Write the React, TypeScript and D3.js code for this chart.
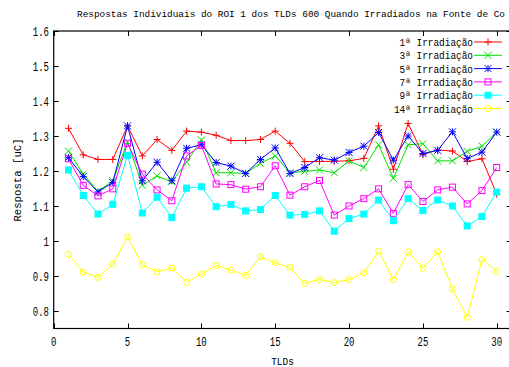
import React from "react";
import * as d3 from "d3";

const W = 509;
const H = 367;

const titleText = "Respostas Individuais do ROI 1 dos TLDs 600 Quando Irradiados na Fonte de Co";
const xLabel = "TLDs";
const yLabel = "Resposta [uC]";

const tlds = [1, 2, 3, 4, 5, 6, 7, 8, 9, 10, 11, 12, 13, 14, 15, 16, 17, 18, 19, 20, 21, 22, 23, 24, 25, 26, 27, 28, 29, 30];

const irr1 = [1.322, 1.246, 1.233, 1.233, 1.329, 1.243, 1.29, 1.259, 1.314, 1.311, 1.302, 1.287, 1.287, 1.29, 1.314, 1.279, 1.227, 1.227, 1.228, 1.229, 1.236, 1.329, 1.205, 1.336, 1.247, 1.26, 1.257, 1.227, 1.235, 1.134];
const irr3 = [1.257, 1.191, 1.142, 1.172, 1.284, 1.159, 1.186, 1.169, 1.225, 1.289, 1.195, 1.195, 1.193, 1.222, 1.243, 1.195, 1.199, 1.203, 1.195, 1.229, 1.21, 1.275, 1.179, 1.275, 1.278, 1.229, 1.229, 1.256, 1.271, 1.311];
const irr5 = [1.238, 1.184, 1.14, 1.167, 1.329, 1.172, 1.225, 1.172, 1.265, 1.275, 1.224, 1.214, 1.193, 1.233, 1.266, 1.193, 1.21, 1.238, 1.231, 1.253, 1.271, 1.31, 1.231, 1.3, 1.25, 1.259, 1.312, 1.236, 1.254, 1.311];
const irr7 = [1.235, 1.159, 1.129, 1.149, 1.279, 1.191, 1.146, 1.115, 1.243, 1.273, 1.163, 1.161, 1.148, 1.155, 1.215, 1.131, 1.155, 1.173, 1.074, 1.1, 1.121, 1.149, 1.079, 1.161, 1.113, 1.146, 1.154, 1.106, 1.144, 1.21];
const irr9 = [1.203, 1.13, 1.077, 1.105, 1.245, 1.08, 1.125, 1.067, 1.151, 1.155, 1.098, 1.104, 1.086, 1.09, 1.13, 1.074, 1.076, 1.086, 1.028, 1.064, 1.077, 1.117, 1.058, 1.121, 1.087, 1.117, 1.1, 1.043, 1.07, 1.14];
const irr14 = [0.962, 0.911, 0.896, 0.934, 1.011, 0.932, 0.912, 0.923, 0.882, 0.906, 0.93, 0.917, 0.902, 0.955, 0.938, 0.924, 0.879, 0.89, 0.881, 0.89, 0.909, 0.971, 0.89, 0.969, 0.922, 0.969, 0.863, 0.782, 0.947, 0.913];

const seriesNames = ["1ª Irradiação", "3ª Irradiação", "5ª Irradiação", "7ª Irradiação", "9ª Irradiação", "14ª Irradiação"];
const seriesValues = [irr1, irr3, irr5, irr7, irr9, irr14];
const seriesColors = ["#ff0000", "#00e000", "#0000ff", "#ff00ff", "#00ffff", "#ffff00"];
const seriesMarkers = ["plus", "cross", "star", "square", "filledSquare", "circle"];

const xTicks = [0, 5, 10, 15, 20, 25, 30];
const yTicks = [0.8, 0.9, 1.0, 1.1, 1.2, 1.3, 1.4, 1.5, 1.6];
const yTickLabels = ["0.8", "0.9", "1", "1.1", "1.2", "1.3", "1.4", "1.5", "1.6"];

const FONT = "'Liberation Mono', 'DejaVu Sans Mono', monospace";
const CW = 5.65;

function Marker({ type, x, y, color }: { type: string; x: number; y: number; color: string }) {
  const s = 3.5;
  const sw = 1;
  switch (type) {
    case "plus":
      return (
        <g stroke={color} strokeWidth={sw}>
          <line x1={x - s} x2={x + s} y1={y} y2={y} />
          <line x1={x} x2={x} y1={y - s} y2={y + s} />
        </g>
      );
    case "cross":
      return (
        <g stroke={color} strokeWidth={sw}>
          <line x1={x - s} x2={x + s} y1={y - s} y2={y + s} />
          <line x1={x - s} x2={x + s} y1={y + s} y2={y - s} />
        </g>
      );
    case "star":
      return (
        <g stroke={color} strokeWidth={sw}>
          <line x1={x - s} x2={x + s} y1={y} y2={y} />
          <line x1={x} x2={x} y1={y - s} y2={y + s} />
          <line x1={x - s} x2={x + s} y1={y - s} y2={y + s} />
          <line x1={x - s} x2={x + s} y1={y + s} y2={y - s} />
        </g>
      );
    case "square":
      return <rect x={x - s + 0.5} y={y - s + 0.5} width={2 * s - 1} height={2 * s - 1} fill="none" stroke={color} strokeWidth={sw} />;
    case "filledSquare":
      return <rect x={x - s + 0.5} y={y - s + 0.5} width={2 * s - 1} height={2 * s - 1} fill={color} stroke={color} strokeWidth={sw} />;
    case "circle":
      return <circle cx={x} cy={y} r={s - 0.5} fill="none" stroke={color} strokeWidth={sw} />;
    default:
      return null;
  }
}

export default function App() {
  const left = 53.7;
  const right = 511.5;
  const top = 31;
  const bottom = 328.5;

  const x = d3.scaleLinear().domain([0, 31]).range([left, right]);
  const y = d3.scaleLinear().domain([0.75, 1.6]).range([bottom, top]);

  const line = d3
    .line<number>()
    .x((_, i) => x(tlds[i]))
    .y((d) => y(d));

  const tickLen = 5;
  const legendTop = 42;
  const legendStep = 13.3;

  return (
    <svg
      width={W}
      height={H}
      style={{ position: "absolute", left: 0, top: 0, background: "#fff" }}
      fontFamily={FONT}
    >
      <rect x={0} y={0} width={W} height={H} fill="#fff" />
      {/* title */}
      <text x={77} y={17} fontSize={9.2} textLength={428} lengthAdjust="spacingAndGlyphs" fill="#000">
        {titleText}
      </text>

      {/* ticks */}
      {xTicks.map((t) => (
        <g key={"xt" + t} stroke="#000" strokeWidth={1}>
          <line x1={Math.round(x(t)) + 0.5} x2={Math.round(x(t)) + 0.5} y1={bottom} y2={bottom - tickLen} />
          <line x1={Math.round(x(t)) + 0.5} x2={Math.round(x(t)) + 0.5} y1={top} y2={top + tickLen} />
        </g>
      ))}
      {yTicks.map((t) => (
        <g key={"yt" + t} stroke="#000" strokeWidth={1}>
          <line x1={left} x2={left + tickLen} y1={Math.round(y(t)) + 0.5} y2={Math.round(y(t)) + 0.5} />
          <line x1={right} x2={right - tickLen} y1={Math.round(y(t)) + 0.5} y2={Math.round(y(t)) + 0.5} />
        </g>
      ))}

      {/* border */}
      <rect x={left} y={top} width={right - left} height={bottom - top} fill="none" stroke="#000" strokeWidth={1.2} />

      {/* tick labels */}
      {xTicks.map((t) => (
        <text
          key={"xl" + t}
          x={x(t)}
          y={346}
          fontSize={12}
          textAnchor="middle"
          textLength={String(t).length * 5.4}
          lengthAdjust="spacingAndGlyphs"
          fill="#000"
        >
          {String(t)}
        </text>
      ))}
      {yTicks.map((t, i) => (
        <text
          key={"yl" + t}
          x={49}
          y={y(t) + 4.5}
          fontSize={12}
          textAnchor="end"
          textLength={yTickLabels[i].length * 5.4}
          lengthAdjust="spacingAndGlyphs"
          fill="#000"
        >
          {yTickLabels[i]}
        </text>
      ))}

      {/* axis labels */}
      <text x={282.5} y={365} fontSize={11} textAnchor="middle" textLength={xLabel.length * CW} lengthAdjust="spacingAndGlyphs" fill="#000">
        {xLabel}
      </text>
      <text
        transform="translate(21,180) rotate(-90)"
        x={0}
        y={0}
        fontSize={11}
        textAnchor="middle"
        textLength={yLabel.length * 6.4}
        lengthAdjust="spacingAndGlyphs"
        fill="#000"
      >
        {yLabel}
      </text>

      {/* series */}
      {seriesValues.map((vals, si) => (
        <g key={"s" + si}>
          <path d={line(vals) || ""} fill="none" stroke={seriesColors[si]} strokeWidth={1} />
          {vals.map((v, i) => (
            <Marker key={i} type={seriesMarkers[si]} x={x(tlds[i])} y={y(v)} color={seriesColors[si]} />
          ))}
        </g>
      ))}

      {/* legend */}
      {seriesNames.map((name, si) => {
        const cy = legendTop + si * legendStep;
        return (
          <g key={"lg" + si}>
            <text
              x={473}
              y={cy + 4}
              fontSize={11}
              textAnchor="end"
              textLength={name.length * CW}
              lengthAdjust="spacingAndGlyphs"
              fill="#000"
            >
              {name}
            </text>
            <line x1={474} x2={502} y1={cy} y2={cy} stroke={seriesColors[si]} strokeWidth={1} />
            <Marker type={seriesMarkers[si]} x={488} y={cy} color={seriesColors[si]} />
          </g>
        );
      })}
    </svg>
  );
}
